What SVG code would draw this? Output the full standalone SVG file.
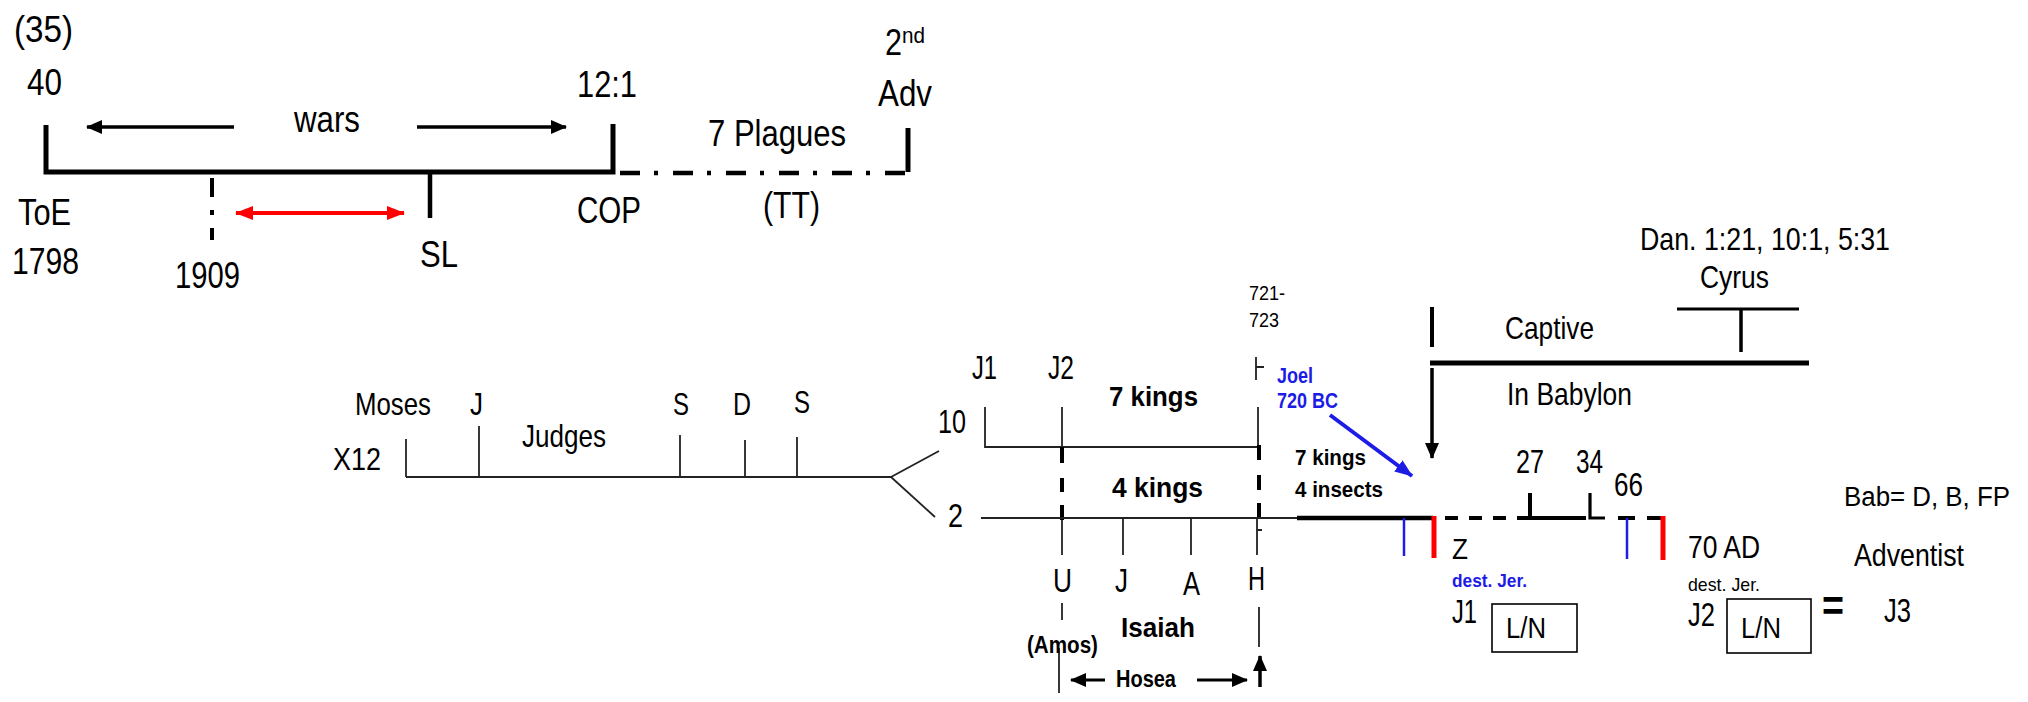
<svg xmlns="http://www.w3.org/2000/svg" width="2028" height="702" viewBox="0 0 2028 702">
<defs>
<style>
text{font-family:"Liberation Sans",Arial,sans-serif;fill:#000;}
.t36{font-size:36px;}
.t34{font-size:34px;}
.t32{font-size:32px;}
.t30{font-size:30px;}
.b{font-weight:bold;}
.blue{fill:#1c1ce6;}
.thin{stroke:#222;stroke-width:1.8;fill:none;}
.thick{stroke:#000;stroke-width:4.5;fill:none;}
.med{stroke:#000;stroke-width:3.2;fill:none;}
</style>
<marker id="ah" markerUnits="userSpaceOnUse" markerWidth="16" markerHeight="14" refX="15" refY="7" orient="auto"><path d="M0,0 L16,7 L0,14 Z" fill="#000"/></marker>
<marker id="ahR" markerUnits="userSpaceOnUse" markerWidth="18" markerHeight="14" refX="17" refY="7" orient="auto-start-reverse"><path d="M0,0 L18,7 L0,14 Z" fill="#f00"/></marker>
<marker id="ahB" markerUnits="userSpaceOnUse" markerWidth="18" markerHeight="14" refX="17" refY="7" orient="auto"><path d="M0,0 L18,7 L0,14 Z" fill="#1c1ce6"/></marker>
</defs>
<rect width="2028" height="702" fill="#fff"/>

<g id="connectors">
  <!-- top timeline -->
  <path d="M46 125 V172 H613 V124" stroke="#000" stroke-width="5" fill="none"/>
  <line x1="620" y1="173" x2="905" y2="173" stroke="#000" stroke-width="4.5" stroke-dasharray="20 14 4 15"/>
  <line x1="908" y1="128" x2="908" y2="172" stroke="#000" stroke-width="5"/>
  <line x1="430" y1="172" x2="430" y2="218" stroke="#000" stroke-width="4.5"/>
  <line x1="212" y1="178" x2="212" y2="242" stroke="#000" stroke-width="4" stroke-dasharray="19 13 5 13 12"/>
  <line x1="236" y1="213" x2="404" y2="213" stroke="#f00" stroke-width="4" marker-start="url(#ahR)" marker-end="url(#ahR)"/>
  <line x1="234" y1="127" x2="87" y2="127" stroke="#000" stroke-width="3.5" marker-end="url(#ah)"/>
  <line x1="417" y1="127" x2="566" y2="127" stroke="#000" stroke-width="3.5" marker-end="url(#ah)"/>

  <!-- Moses / Judges line -->
  <line x1="406" y1="477" x2="891" y2="477" class="thin"/>
  <line x1="406" y1="439" x2="406" y2="477" class="thin"/>
  <line x1="479" y1="426" x2="479" y2="477" class="thin"/>
  <line x1="680" y1="435" x2="680" y2="477" class="thin"/>
  <line x1="745" y1="440" x2="745" y2="477" class="thin"/>
  <line x1="797" y1="437" x2="797" y2="477" class="thin"/>
  <line x1="891" y1="477" x2="939" y2="451" class="thin"/>
  <line x1="891" y1="477" x2="935" y2="517" class="thin"/>

  <!-- 10 line -->
  <path d="M985 407 V447 H1259" class="thin"/>
  <line x1="1062" y1="407" x2="1062" y2="447" class="thin"/>
  <path d="M1256 357 V380 M1256 367 H1264" class="thin"/>
  <line x1="1258" y1="407" x2="1258" y2="447" class="thin"/>
  <!-- thick dashes J2 & H -->
  <path d="M1062 447 V463 M1062 478 V492 M1062 505 V520" stroke="#000" stroke-width="4" fill="none"/>
  <path d="M1259 445 V460 M1259 475 V490 M1259 503 V518" stroke="#000" stroke-width="4" fill="none"/>

  <!-- 2 line -->
  <line x1="981" y1="518" x2="1297" y2="518" class="thin"/>
  <line x1="1297" y1="518" x2="1433" y2="518" class="thick"/>
  <line x1="1062" y1="520" x2="1062" y2="555" class="thin"/>
  <line x1="1123" y1="518" x2="1123" y2="555" class="thin"/>
  <line x1="1191" y1="518" x2="1191" y2="555" class="thin"/>
  <path d="M1257 518 V555 M1257 530 H1262" class="thin"/>
  <line x1="1062" y1="603" x2="1062" y2="620" class="thin"/>
  <line x1="1059" y1="648" x2="1059" y2="693" class="thin"/>
  <line x1="1259" y1="607" x2="1259" y2="647" class="thin"/>
  <line x1="1260" y1="687" x2="1260" y2="656" stroke="#000" stroke-width="3.5" marker-end="url(#ah)"/>
  <line x1="1105" y1="680" x2="1071" y2="680" stroke="#000" stroke-width="3" marker-end="url(#ah)"/>
  <line x1="1197" y1="680" x2="1247" y2="680" stroke="#000" stroke-width="3" marker-end="url(#ah)"/>

  <!-- Z / Jerusalem ticks -->
  <line x1="1404" y1="518" x2="1404" y2="556" stroke="#1c1ce6" stroke-width="2.5"/>
  <line x1="1434" y1="516" x2="1434" y2="558" stroke="#f00" stroke-width="5"/>
  <line x1="1445" y1="518" x2="1528" y2="518" stroke="#000" stroke-width="4" stroke-dasharray="13 11"/>
  <path d="M1530 493 V518 H1586" stroke="#000" stroke-width="4" fill="none"/>
  <path d="M1590 493 V518 H1605" stroke="#000" stroke-width="3.2" fill="none"/>
  <path d="M1618 518 H1635 M1647 518 H1664" stroke="#000" stroke-width="4" fill="none"/>
  <line x1="1627" y1="518" x2="1627" y2="559" stroke="#1c1ce6" stroke-width="2.5"/>
  <line x1="1663" y1="516" x2="1663" y2="560" stroke="#f00" stroke-width="5"/>

  <!-- Captive / Babylon -->
  <line x1="1432" y1="307" x2="1432" y2="347" stroke="#000" stroke-width="4"/>
  <line x1="1430" y1="363" x2="1809" y2="363" stroke="#000" stroke-width="5"/>
  <line x1="1432" y1="368" x2="1432" y2="458" stroke="#000" stroke-width="3.5" marker-end="url(#ah)"/>
  <line x1="1677" y1="309" x2="1799" y2="309" stroke="#000" stroke-width="3"/>
  <line x1="1741" y1="309" x2="1741" y2="352" stroke="#000" stroke-width="3.5"/>
  <line x1="1330" y1="415" x2="1412" y2="476" stroke="#1c1ce6" stroke-width="4" marker-end="url(#ahB)"/>
</g>

<g id="top-labels">
  <text class="t36" x="14" y="42" textLength="59" lengthAdjust="spacingAndGlyphs">(35)</text>
  <text class="t36" x="27" y="95" textLength="35" lengthAdjust="spacingAndGlyphs">40</text>
  <text class="t36" x="294" y="132" textLength="66" lengthAdjust="spacingAndGlyphs">wars</text>
  <text class="t36" x="577" y="97" textLength="60" lengthAdjust="spacingAndGlyphs">12:1</text>
  <text class="t36" x="885" y="55" textLength="17" lengthAdjust="spacingAndGlyphs">2</text>
  <text x="902" y="43" style="font-size:22px" textLength="23" lengthAdjust="spacingAndGlyphs">nd</text>
  <text class="t36" x="878" y="106" textLength="54" lengthAdjust="spacingAndGlyphs">Adv</text>
  <text class="t36" x="708" y="146" textLength="138" lengthAdjust="spacingAndGlyphs">7 Plagues</text>
  <text class="t36" x="18" y="225" textLength="53" lengthAdjust="spacingAndGlyphs">ToE</text>
  <text class="t36" x="12" y="274" textLength="67" lengthAdjust="spacingAndGlyphs">1798</text>
  <text class="t36" x="175" y="288" textLength="65" lengthAdjust="spacingAndGlyphs">1909</text>
  <text class="t36" x="420" y="267" textLength="38" lengthAdjust="spacingAndGlyphs">SL</text>
  <text class="t36" x="577" y="223" textLength="64" lengthAdjust="spacingAndGlyphs">COP</text>
  <text class="t36" x="763" y="218" textLength="57" lengthAdjust="spacingAndGlyphs">(TT)</text>
</g>

<g id="judges">
  <text class="t32" x="355" y="415" textLength="76" lengthAdjust="spacingAndGlyphs">Moses</text>
  <text class="t32" x="470" y="415" textLength="13" lengthAdjust="spacingAndGlyphs">J</text>
  <text class="t32" x="522" y="447" textLength="84" lengthAdjust="spacingAndGlyphs">Judges</text>
  <text class="t32" x="673" y="415" textLength="16" lengthAdjust="spacingAndGlyphs">S</text>
  <text class="t32" x="733" y="415" textLength="18" lengthAdjust="spacingAndGlyphs">D</text>
  <text class="t32" x="794" y="413" textLength="16" lengthAdjust="spacingAndGlyphs">S</text>
  <text class="t32" x="333" y="470" textLength="48" lengthAdjust="spacingAndGlyphs">X12</text>
</g>

<g id="kings">
  <text class="t34" x="972" y="379" textLength="25" lengthAdjust="spacingAndGlyphs">J1</text>
  <text class="t34" x="1048" y="379" textLength="26" lengthAdjust="spacingAndGlyphs">J2</text>
  <text class="t34" x="938" y="433" textLength="28" lengthAdjust="spacingAndGlyphs">10</text>
  <text class="t34" x="948" y="527" textLength="15" lengthAdjust="spacingAndGlyphs">2</text>
  <text class="b" style="font-size:27px" x="1109" y="406" textLength="89" lengthAdjust="spacingAndGlyphs">7 kings</text>
  <text class="b" style="font-size:28px" x="1112" y="497" textLength="91" lengthAdjust="spacingAndGlyphs">4 kings</text>
  <text style="font-size:21px" x="1249" y="300" textLength="36" lengthAdjust="spacingAndGlyphs">721-</text>
  <text style="font-size:21px" x="1249" y="327" textLength="30" lengthAdjust="spacingAndGlyphs">723</text>
  <text class="b blue" style="font-size:22px" x="1277" y="383" textLength="36" lengthAdjust="spacingAndGlyphs">Joel</text>
  <text class="b blue" style="font-size:22px" x="1277" y="408" textLength="61" lengthAdjust="spacingAndGlyphs">720 BC</text>
  <text class="b" style="font-size:22px" x="1295" y="465" textLength="71" lengthAdjust="spacingAndGlyphs">7 kings</text>
  <text class="b" style="font-size:22px" x="1295" y="497" textLength="88" lengthAdjust="spacingAndGlyphs">4 insects</text>
</g>

<g id="prophets">
  <text class="t34" x="1053" y="592" textLength="19" lengthAdjust="spacingAndGlyphs">U</text>
  <text class="t34" x="1115" y="592" textLength="13" lengthAdjust="spacingAndGlyphs">J</text>
  <text class="t34" x="1183" y="595" textLength="17" lengthAdjust="spacingAndGlyphs">A</text>
  <text class="t34" x="1248" y="590" textLength="17" lengthAdjust="spacingAndGlyphs">H</text>
  <text class="b" style="font-size:23px" x="1027" y="653" textLength="71" lengthAdjust="spacingAndGlyphs">(Amos)</text>
  <text class="b" style="font-size:28px" x="1121" y="637" textLength="74" lengthAdjust="spacingAndGlyphs">Isaiah</text>
  <text class="b" style="font-size:23px" x="1116" y="687" textLength="60" lengthAdjust="spacingAndGlyphs">Hosea</text>
</g>

<g id="babylon">
  <text class="t32" x="1640" y="250" textLength="250" lengthAdjust="spacingAndGlyphs">Dan. 1:21, 10:1, 5:31</text>
  <text class="t32" x="1700" y="288" textLength="69" lengthAdjust="spacingAndGlyphs">Cyrus</text>
  <text class="t32" x="1505" y="339" textLength="89" lengthAdjust="spacingAndGlyphs">Captive</text>
  <text class="t32" x="1507" y="405" textLength="125" lengthAdjust="spacingAndGlyphs">In Babylon</text>
  <text class="t34" x="1516" y="473" textLength="28" lengthAdjust="spacingAndGlyphs">27</text>
  <text class="t34" x="1576" y="473" textLength="27" lengthAdjust="spacingAndGlyphs">34</text>
  <text class="t34" x="1614" y="496" textLength="29" lengthAdjust="spacingAndGlyphs">66</text>
</g>

<g id="jerusalem1">
  <text class="t30" x="1452" y="559" textLength="16" lengthAdjust="spacingAndGlyphs">Z</text>
  <text class="b blue" style="font-size:19px" x="1452" y="587" textLength="75" lengthAdjust="spacingAndGlyphs">dest. Jer.</text>
  <text class="t34" x="1452" y="623" textLength="25" lengthAdjust="spacingAndGlyphs">J1</text>
  <rect x="1492" y="604" width="85" height="48" fill="none" stroke="#000" stroke-width="1.6"/>
  <text class="t30" x="1506" y="638" textLength="40" lengthAdjust="spacingAndGlyphs">L/N</text>
</g>

<g id="jerusalem2">
  <text class="t32" x="1688" y="558" textLength="72" lengthAdjust="spacingAndGlyphs">70 AD</text>
  <text style="font-size:19px" x="1688" y="591" textLength="72" lengthAdjust="spacingAndGlyphs">dest. Jer.</text>
  <text class="t34" x="1688" y="626" textLength="27" lengthAdjust="spacingAndGlyphs">J2</text>
  <rect x="1727" y="599" width="84" height="54" fill="none" stroke="#000" stroke-width="1.6"/>
  <text class="t30" x="1741" y="638" textLength="40" lengthAdjust="spacingAndGlyphs">L/N</text>
</g>

<g id="adventist">
  <text class="b" style="font-size:44px" x="1822" y="621" textLength="22" lengthAdjust="spacingAndGlyphs">=</text>
  <text class="t34" x="1884" y="622" textLength="27" lengthAdjust="spacingAndGlyphs">J3</text>
  <text style="font-size:27px" x="1844" y="506" textLength="166" lengthAdjust="spacingAndGlyphs">Bab= D, B, FP</text>
  <text class="t32" x="1854" y="566" textLength="110" lengthAdjust="spacingAndGlyphs">Adventist</text>
</g>
</svg>
